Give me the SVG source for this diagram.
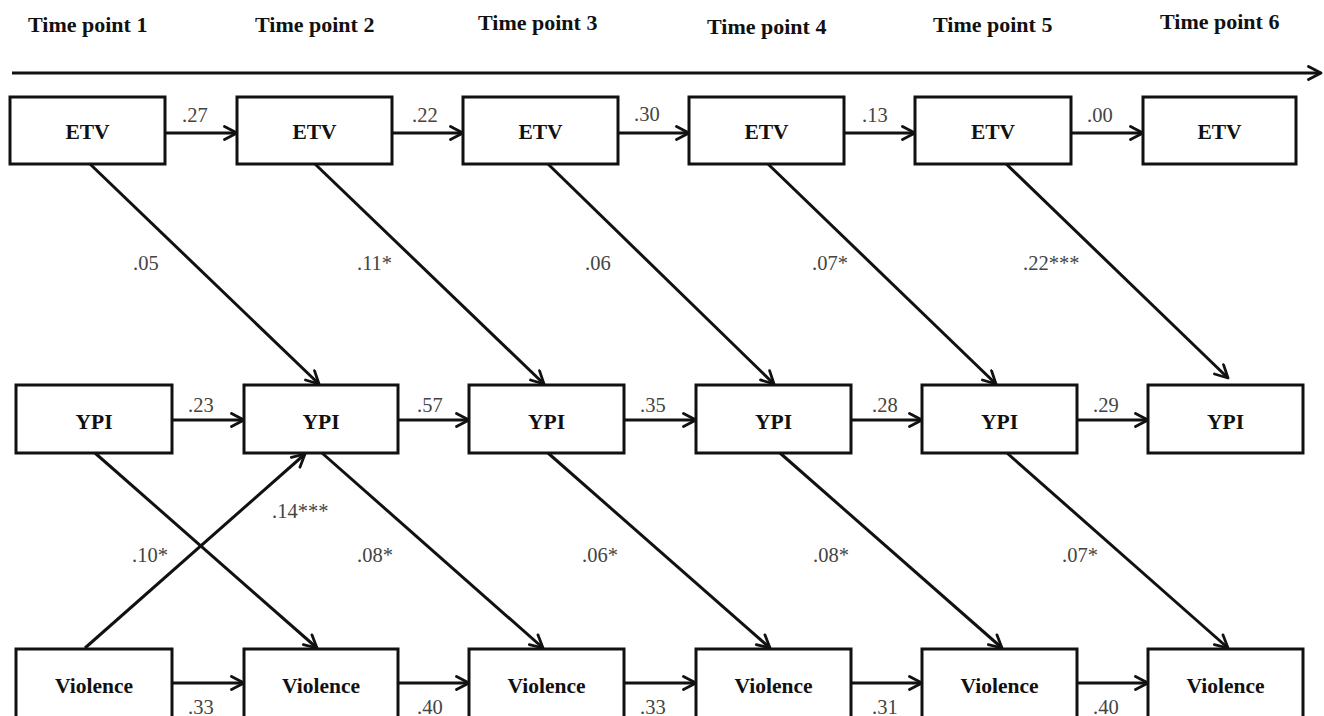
<svg xmlns="http://www.w3.org/2000/svg" width="1324" height="716" viewBox="0 0 1324 716">
<style>
.box{fill:#fff;stroke:#111;stroke-width:3}
.lbl{font-family:"Liberation Serif","Times New Roman",serif;font-weight:bold;font-size:21.5px;fill:#111;text-anchor:middle}
.tp{font-family:"Liberation Serif","Times New Roman",serif;font-weight:bold;font-size:22px;fill:#111}
.co{font-family:"Liberation Serif","Times New Roman",serif;font-size:20.5px;fill:#444}
.ln{stroke:#111;stroke-width:3;fill:none;marker-end:url(#ah)}
</style>
<defs>
<marker id="ah" viewBox="0 0 16 16" refX="14.5" refY="8" markerWidth="16" markerHeight="16" markerUnits="userSpaceOnUse" orient="auto">
<path d="M2,1.5 L14.5,8 L2,14.5" fill="none" stroke="#111" stroke-width="2.8" stroke-linecap="round" stroke-linejoin="round"/>
</marker>
</defs>
<rect width="1324" height="716" fill="#fff"/>
<g id="timeline">
<text class="tp" x="28" y="32">Time point 1</text>
<text class="tp" x="255" y="32">Time point 2</text>
<text class="tp" x="478" y="30">Time point 3</text>
<text class="tp" x="707" y="34">Time point 4</text>
<text class="tp" x="933" y="32">Time point 5</text>
<text class="tp" x="1160" y="29">Time point 6</text>
<line class="ln" x1="12" y1="73" x2="1321" y2="73"/>
</g>
<g id="connectors">
<line class="ln" x1="165" y1="133" x2="237" y2="133"/>
<line class="ln" x1="392" y1="133" x2="463" y2="133"/>
<line class="ln" x1="618" y1="133" x2="689" y2="133"/>
<line class="ln" x1="844" y1="133" x2="915" y2="133"/>
<line class="ln" x1="1071" y1="133" x2="1143" y2="133"/>
<line class="ln" x1="172" y1="420" x2="244" y2="420"/>
<line class="ln" x1="398" y1="420" x2="469" y2="420"/>
<line class="ln" x1="624" y1="420" x2="696" y2="420"/>
<line class="ln" x1="851" y1="420" x2="922" y2="420"/>
<line class="ln" x1="1077" y1="420" x2="1148" y2="420"/>
<line class="ln" x1="172" y1="683" x2="244" y2="683"/>
<line class="ln" x1="398" y1="683" x2="469" y2="683"/>
<line class="ln" x1="624" y1="683" x2="696" y2="683"/>
<line class="ln" x1="851" y1="683" x2="922" y2="683"/>
<line class="ln" x1="1077" y1="683" x2="1148" y2="683"/>
<line class="ln" x1="90" y1="164" x2="319" y2="384"/>
<line class="ln" x1="315" y1="164" x2="544" y2="384"/>
<line class="ln" x1="548" y1="164" x2="774" y2="384"/>
<line class="ln" x1="768" y1="164" x2="996" y2="384"/>
<line class="ln" x1="1000" y1="158" x2="1228" y2="378"/>
<line class="ln" x1="95" y1="453" x2="317" y2="648"/>
<line class="ln" x1="322" y1="453" x2="543" y2="648"/>
<line class="ln" x1="548" y1="453" x2="770" y2="648"/>
<line class="ln" x1="780" y1="453" x2="1002" y2="648"/>
<line class="ln" x1="1007" y1="453" x2="1228" y2="648"/>
<line class="ln" x1="85" y1="648" x2="305" y2="454"/>
</g>
<g id="coefficients">
<text class="co" x="182" y="122">.27</text>
<text class="co" x="412" y="122">.22</text>
<text class="co" x="634" y="121">.30</text>
<text class="co" x="862" y="122">.13</text>
<text class="co" x="1087" y="122">.00</text>
<text class="co" x="188" y="412">.23</text>
<text class="co" x="417" y="412">.57</text>
<text class="co" x="640" y="412">.35</text>
<text class="co" x="872" y="412">.28</text>
<text class="co" x="1093" y="412">.29</text>
<text class="co" x="188" y="714">.33</text>
<text class="co" x="417" y="714">.40</text>
<text class="co" x="640" y="714">.33</text>
<text class="co" x="872" y="714">.31</text>
<text class="co" x="1093" y="714">.40</text>
<text class="co" x="133" y="270">.05</text>
<text class="co" x="357" y="270">.11*</text>
<text class="co" x="585" y="270">.06</text>
<text class="co" x="812" y="270">.07*</text>
<text class="co" x="1023" y="270">.22***</text>
<text class="co" x="272" y="518">.14***</text>
<text class="co" x="132" y="562">.10*</text>
<text class="co" x="357" y="562">.08*</text>
<text class="co" x="582" y="562">.06*</text>
<text class="co" x="813" y="562">.08*</text>
<text class="co" x="1062" y="562">.07*</text>
</g>
<g id="etv1"><rect class="box" x="10" y="97" width="155" height="67"/><text class="lbl" x="87.5" y="139">ETV</text></g>
<g id="etv2"><rect class="box" x="237" y="97" width="155" height="67"/><text class="lbl" x="314.5" y="139">ETV</text></g>
<g id="etv3"><rect class="box" x="463" y="97" width="155" height="67"/><text class="lbl" x="540.5" y="139">ETV</text></g>
<g id="etv4"><rect class="box" x="689" y="97" width="155" height="67"/><text class="lbl" x="766.5" y="139">ETV</text></g>
<g id="etv5"><rect class="box" x="915" y="97" width="156" height="67"/><text class="lbl" x="993" y="139">ETV</text></g>
<g id="etv6"><rect class="box" x="1143" y="97" width="153" height="67"/><text class="lbl" x="1219.5" y="139">ETV</text></g>
<g id="ypi1"><rect class="box" x="16" y="385" width="156" height="68"/><text class="lbl" x="94" y="429">YPI</text></g>
<g id="ypi2"><rect class="box" x="244" y="385" width="154" height="68"/><text class="lbl" x="321" y="429">YPI</text></g>
<g id="ypi3"><rect class="box" x="469" y="385" width="155" height="68"/><text class="lbl" x="546.5" y="429">YPI</text></g>
<g id="ypi4"><rect class="box" x="696" y="385" width="155" height="68"/><text class="lbl" x="773.5" y="429">YPI</text></g>
<g id="ypi5"><rect class="box" x="922" y="385" width="155" height="68"/><text class="lbl" x="999.5" y="429">YPI</text></g>
<g id="ypi6"><rect class="box" x="1148" y="385" width="155" height="68"/><text class="lbl" x="1225.5" y="429">YPI</text></g>
<g id="violence1"><rect class="box" x="16" y="649" width="156" height="72"/><text class="lbl" x="94" y="693">Violence</text></g>
<g id="violence2"><rect class="box" x="244" y="649" width="154" height="72"/><text class="lbl" x="321" y="693">Violence</text></g>
<g id="violence3"><rect class="box" x="469" y="649" width="155" height="72"/><text class="lbl" x="546.5" y="693">Violence</text></g>
<g id="violence4"><rect class="box" x="696" y="649" width="155" height="72"/><text class="lbl" x="773.5" y="693">Violence</text></g>
<g id="violence5"><rect class="box" x="922" y="649" width="155" height="72"/><text class="lbl" x="999.5" y="693">Violence</text></g>
<g id="violence6"><rect class="box" x="1148" y="649" width="155" height="72"/><text class="lbl" x="1225.5" y="693">Violence</text></g>
</svg>
